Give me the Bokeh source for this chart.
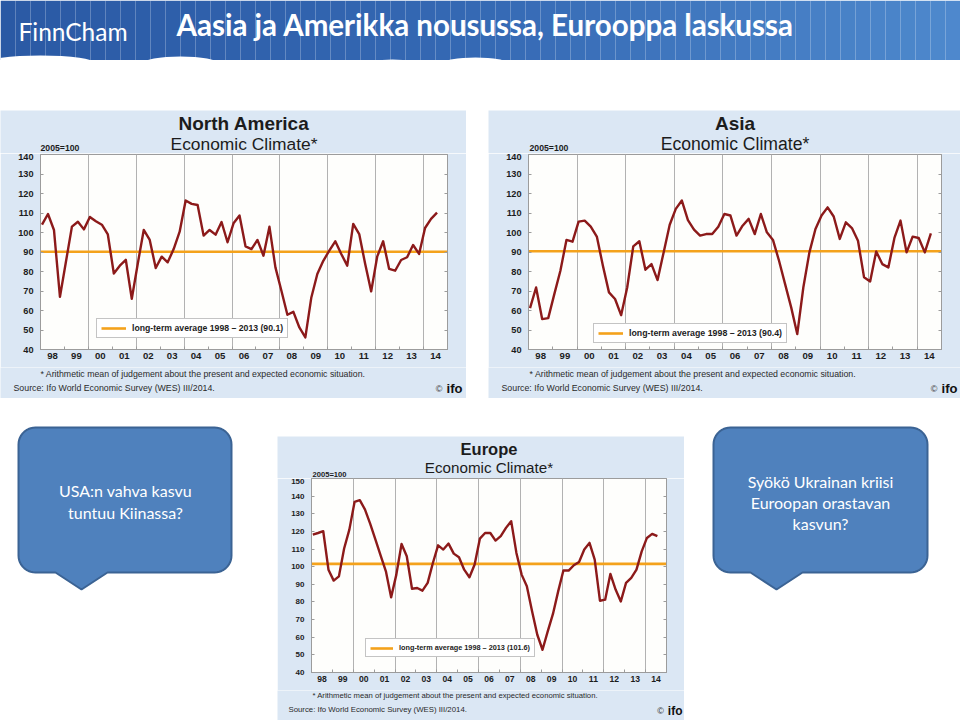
import numpy as np
from bokeh.plotting import figure
from bokeh.layouts import row, column
from bokeh.models import (Range1d, FixedTicker, LinearAxis, Legend, LegendItem, Spacer)
from bokeh.core.properties import value
from bokeh.embed import file_html
from bokeh.resources import INLINE

# ---------------- data ----------------
start_year = 1998
years = list(range(1998, 2015))
year_labels = ["98", "99", "00", "01", "02", "03", "04", "05", "06",
               "07", "08", "09", "10", "11", "12", "13", "14"]

na_values = [104.0, 109.5, 101.3, 67.0, 85.0, 103.0, 105.5, 101.6, 108.0, 105.8,
             104.0, 99.0, 79.0, 83.0, 86.0, 66.0, 84.0, 101.3, 96.2, 81.8,
             87.6, 84.7, 91.5, 100.4, 116.4, 114.7, 114.1, 98.4, 101.3, 98.9,
             105.4, 95.0, 104.7, 108.7, 92.9, 91.5, 96.2, 88.1, 103.0, 82.1,
             70.1, 57.8, 59.3, 51.3, 46.2, 66.7, 78.7, 85.5, 90.7, 95.5,
             89.0, 83.0, 104.4, 99.2, 83.8, 69.8, 87.6, 95.5, 81.3, 80.4,
             85.9, 87.3, 93.6, 89.0, 102.3, 107.0, 110.2]
asia_values = [61.2, 71.8, 55.6, 56.1, 68.4, 80.4, 96.2, 95.3, 105.6, 106.1,
               103.0, 97.9, 83.0, 69.3, 65.9, 57.6, 71.8, 92.9, 95.5, 80.9,
               83.8, 75.6, 89.8, 104.0, 112.1, 116.4, 106.4, 101.5, 98.4, 99.2,
               99.2, 103.0, 109.5, 108.7, 98.4, 103.5, 107.0, 99.2, 109.5, 100.1,
               96.2, 85.5, 73.5, 61.6, 47.9, 71.8, 89.8, 101.8, 108.7, 112.9,
               108.2, 96.7, 105.2, 102.3, 95.8, 77.0, 74.9, 90.3, 83.8, 82.1,
               97.2, 106.1, 89.8, 97.9, 97.2, 89.8, 99.6]
europe_values = [118.2, 119.1, 120.1, 98.3, 92.1, 94.5, 110.3, 121.0, 136.7, 137.7,
                 132.4, 124.3, 115.4, 106.3, 97.4, 82.6, 95.5, 112.9, 105.9, 87.5,
                 87.9, 86.4, 90.8, 102.1, 112.1, 109.7, 113.1, 107.4, 105.3, 98.3,
                 94.0, 101.2, 115.9, 119.1, 119.1, 114.8, 117.3, 122.0, 125.8, 107.8,
                 95.5, 88.9, 74.7, 61.4, 52.9, 63.3, 73.2, 86.0, 97.8, 97.8,
                 100.8, 102.7, 109.7, 113.5, 104.0, 80.7, 81.3, 95.9, 87.0, 80.3,
                 90.8, 93.6, 98.3, 108.7, 116.3, 118.6, 117.3]

na_avg = 90.1
asia_avg = 90.4
europe_avg = 101.6

na_yticks = [40, 50, 60, 70, 80, 90, 100, 110, 120, 130, 140]
europe_yticks = [40, 50, 60, 70, 80, 90, 100, 110, 120, 130, 140, 150]

na_legend = "long-term average 1998 \u2013 2013 (90.1)"
asia_legend = "long-term average 1998 \u2013 2013 (90.4)"
europe_legend = "long-term average 1998 \u2013 2013 (101.6)"

subtitle = "Economic Climate*"
base_label = "2005=100"
footnote = "* Arithmetic mean of judgement about the present and expected economic situation."
source = "Source: Ifo World Economic Survey (WES) III/2014."

brand = "FinnCham"
slide_title = "Aasia ja Amerikka nousussa, Eurooppa laskussa"
callout_left = ["USA:n vahva kasvu", "tuntuu Kiinassa?"]
callout_right = ["Syökö Ukrainan kriisi", "Euroopan orastavan", "kasvun?"]

# ---------------- style ----------------
PANEL = "#dbe7f4"
PLOT_BG = "#fefefc"
FRAME = "#9c9c9c"
SEP = "#b2b2b2"
ORANGE = "#f4a21c"
RED = "#8c1a1a"
TXT = "#1c1c1c"
FONT = "Liberation Sans"
SLIDE_FONT = "Lato"
BUBBLE = "#4f81bd"
BUBBLE_EDGE = "#3b6394"


def quarter_times(n):
    return [start_year + (k + 0.25) / 4 for k in range(n)]


def deco_fig(w, h, xr, yr, bg="white"):
    p = figure(width=w, height=h, title=None, x_range=Range1d(*xr), y_range=Range1d(*yr),
               toolbar_location=None, output_backend="svg",
               x_axis_type=None, y_axis_type=None, min_border=0,
               outline_line_color=None, background_fill_color=bg,
               border_fill_color=bg, frame_align=False)
    return p


def put_text(p, x, y, text, size, bold=False, align="left", baseline="middle",
             color=TXT, font=FONT):
    p.text(x=[x], y=[y], text=[text], text_font=value(font), text_font_size=f"{size}px",
           text_font_style="bold" if bold else "normal", text_align=align,
           text_baseline=baseline, text_color=color)


def chart_panel(name, vals, avg, yticks, legend_label, g):
    W, H = g["w"], g["h"]
    L, R = g["l"], g["r"]
    fw, fh = W - L - R, g["fh"]
    top_h, bt, bb = g["top_h"], g["bt"], g["bb"]
    chart_h = bt + fh + bb
    bot_h = H - top_h - chart_h

    # --- heading strip ---
    top = deco_fig(W, top_h, (0, W), (top_h, 0), bg=PANEL)
    put_text(top, L + fw / 2, g["title_y"], name, g["title_fs"], bold=True, align="center")
    put_text(top, L + fw / 2, g["sub_y"], subtitle, g["sub_fs"], align="center")
    put_text(top, g["base_x"], g["base_y"], base_label, g["base_fs"], bold=True)

    # --- chart ---
    p = figure(width=W, height=chart_h, title=None,
               x_range=Range1d(years[0], years[-1] + 1),
               y_range=Range1d(yticks[0], yticks[-1]),
               toolbar_location=None, output_backend="svg",
               min_border_left=L, min_border_right=R,
               min_border_top=bt, min_border_bottom=bb,
               border_fill_color=PANEL, background_fill_color=PLOT_BG,
               outline_line_color=FRAME, frame_align=False)
    p.ygrid.visible = False
    p.xgrid.ticker = FixedTicker(ticks=years[2::2])
    p.xgrid.grid_line_color = SEP
    p.xgrid.grid_line_width = 1

    xa = p.xaxis[0]
    xa.ticker = FixedTicker(ticks=[y + 0.5 for y in years],
                            minor_ticks=years + [years[-1] + 1])
    xa.major_label_overrides = {y + 0.5: lab for y, lab in zip(years, year_labels)}
    xa.major_tick_in = 0
    xa.major_tick_out = 0
    xa.minor_tick_in = 3
    xa.minor_tick_out = 0
    xa.minor_tick_line_color = FRAME
    xa.axis_line_color = FRAME
    xa.major_label_standoff = 3
    xa.major_label_text_font = FONT
    xa.major_label_text_font_style = "bold"
    xa.major_label_text_font_size = f"{g['xtick_fs']}px"
    xa.major_label_text_color = TXT

    ya = p.yaxis[0]
    ya.ticker = FixedTicker(ticks=yticks)
    ya.major_tick_in = 3
    ya.major_tick_out = 0
    ya.minor_tick_line_color = None
    ya.major_tick_line_color = FRAME
    ya.axis_line_color = FRAME
    ya.major_label_standoff = 7
    ya.major_label_text_font = FONT
    ya.major_label_text_font_style = "bold"
    ya.major_label_text_font_size = f"{g['ytick_fs']}px"
    ya.major_label_text_color = TXT

    ra = LinearAxis(ticker=FixedTicker(ticks=yticks),
                    major_label_overrides={v: "" for v in yticks},
                    major_tick_in=3, major_tick_out=0, major_label_standoff=0,
                    major_tick_line_color=FRAME, axis_line_color=FRAME,
                    minor_tick_line_color=None)
    p.add_layout(ra, "right")

    avg_line = p.line(x=[years[0], years[-1] + 1], y=[avg, avg],
                      line_color=ORANGE, line_width=2.6)
    t = quarter_times(len(vals))
    p.line(t, vals, line_color=RED, line_width=2.4, line_join="round")

    leg = Legend(items=[LegendItem(label=legend_label, renderers=[avg_line])],
                 location=g["legend"], orientation="vertical",
                 border_line_color="#8a8a8a", border_line_width=1,
                 background_fill_color="white", background_fill_alpha=1.0,
                 label_text_font=FONT, label_text_font_style="bold",
                 label_text_font_size=f"{g['leg_fs']}px", label_text_color=TXT,
                 glyph_width=g["glyph_w"], glyph_height=8, label_height=8,
                 label_standoff=6, padding=4, margin=0, spacing=0)
    p.add_layout(leg)

    # --- footer strip ---
    bot = deco_fig(W, bot_h, (0, W), (bot_h, 0), bg=PANEL)
    put_text(bot, g["foot_x"], g["foot_y"], footnote, g["foot_fs"], color="#2a2a2a")
    put_text(bot, g["src_x"], g["src_y"], source, g["src_fs"], color="#2a2a2a")
    put_text(bot, g["ifo_x"], g["src_y"] + 1, "ifo", g["ifo_fs"], bold=True, align="right",
             color="#111111")
    put_text(bot, g["ifo_x"] - g["ifo_fs"] * 1.55, g["src_y"] + 1, "\u00a9", 9, align="right",
             color="#333333")
    return column(top, p, bot)


na_geo = dict(w=466, h=288, l=40, r=19, fh=195, top_h=43, bt=1, bb=18,
              title_y=13, sub_y=33, base_x=40, base_y=37.5,
              foot_x=40, foot_y=6, src_x=13, src_y=20, ifo_x=462,
              legend=(56, 11), glyph_w=25, title_fs=19, sub_fs=17.4, base_fs=8.7,
              ytick_fs=9.2, xtick_fs=9.6, foot_fs=8.75, src_fs=8.8, leg_fs=8.7, ifo_fs=13)
asia_geo = dict(w=472, h=288, l=40, r=19, fh=195, top_h=43, bt=1, bb=18,
                title_y=13, sub_y=33, base_x=41, base_y=37.5,
                foot_x=41, foot_y=6, src_x=13, src_y=20, ifo_x=469,
                legend=(65, 6), glyph_w=25, title_fs=19, sub_fs=17.6, base_fs=8.7,
                ytick_fs=9.2, xtick_fs=9.6, foot_fs=8.8, src_fs=8.8, leg_fs=8.8, ifo_fs=13)
europe_geo = dict(w=407, h=284, l=34, r=18, fh=194, top_h=42, bt=0, bb=18,
                  title_y=12, sub_y=31, base_x=35, base_y=37.5,
                  foot_x=35, foot_y=5, src_x=11, src_y=19, ifo_x=405,
                  legend=(54, 15), glyph_w=23, title_fs=16.5, sub_fs=15.2, base_fs=7.6,
                  ytick_fs=8, xtick_fs=8.6, foot_fs=7.7, src_fs=7.8, leg_fs=7.3, ifo_fs=12)

na_panel = chart_panel("North America", na_values, na_avg, na_yticks, na_legend, na_geo)
asia_panel = chart_panel("Asia", asia_values, asia_avg, na_yticks, asia_legend, asia_geo)
europe_panel = chart_panel("Europe", europe_values, europe_avg, europe_yticks, europe_legend,
                           europe_geo)


# ---------------- slide decoration ----------------
def mix(c0, c1, f):
    a = [int(c0[i:i + 2], 16) for i in (1, 3, 5)]
    b = [int(c1[i:i + 2], 16) for i in (1, 3, 5)]
    return "#" + "".join(f"{int(round(x + (y - x) * f)):02x}" for x, y in zip(a, b))


hdr = deco_fig(960, 60, (0, 960), (60, 0))
n_strips = 64
edges = np.linspace(0, 960, n_strips + 1)
cols = []
for k in range(n_strips):
    f = (k + 0.5) / n_strips
    cols.append(mix("#2a59a4", "#3569b4", f / 0.5) if f < 0.5
                else mix("#3569b4", "#4e89cd", (f - 0.5) / 0.5))
hdr.quad(left=edges[:-1], right=edges[1:], top=0, bottom=60, fill_color=cols, line_color=None)
hdr.ellipse(x=[40, 180, 392, 475, 740, 845], y=[63, 63, 64, 63, 64, 64],
            width=[110, 75, 55, 65, 60, 70], height=[16, 14, 10, 12, 8, 8],
            fill_color="white", line_color=None)
put_text(hdr, 18, 31, brand, 24.5, color="white", font=SLIDE_FONT)
put_text(hdr, 176, 24, slide_title, 29.5, bold=True, color="white", font=SLIDE_FONT)


def bubble(x0, x1, y0, y1, r, bx0, bx1, tipx, tipy, n=12):
    xs, ys = [], []

    def arc(cx, cy, a0, a1):
        for a in np.linspace(np.radians(a0), np.radians(a1), n):
            xs.append(cx + r * np.cos(a))
            ys.append(cy + r * np.sin(a))

    arc(x1 - r, y0 + r, -90, 0)
    arc(x1 - r, y1 - r, 0, 90)
    xs.extend([bx1, tipx, bx0])
    ys.extend([y1, tipy, y1])
    arc(x0 + r, y1 - r, 90, 180)
    arc(x0 + r, y0 + r, 180, 270)
    return xs, ys


c1 = deco_fig(277, 322, (0, 277), (720, 398))
bx, by = bubble(18, 231, 427, 572, 17, 55, 107, 81, 589)
c1.patch(bx, by, fill_color=BUBBLE, line_color=BUBBLE_EDGE, line_width=2)
c1.text(x=[125, 125], y=[490, 512], text=callout_left, text_font=value(SLIDE_FONT),
        text_font_size="16px", text_color="white", text_align="center", text_baseline="middle")

c2 = deco_fig(276, 322, (684, 960), (720, 398))
bx, by = bubble(713, 927, 427, 572, 17, 750, 802, 776, 589)
c2.patch(bx, by, fill_color=BUBBLE, line_color=BUBBLE_EDGE, line_width=2)
c2.text(x=[820, 820, 820], y=[481, 502, 523], text=callout_right, text_font=value(SLIDE_FONT),
        text_font_size="16px", text_color="white", text_align="center", text_baseline="middle")

layout = column(
    hdr,
    Spacer(width=960, height=50),
    row(na_panel, Spacer(width=22, height=288), asia_panel),
    row(c1, column(Spacer(width=407, height=38), europe_panel), c2),
)

open("out.html", "w").write(file_html(layout, INLINE))
